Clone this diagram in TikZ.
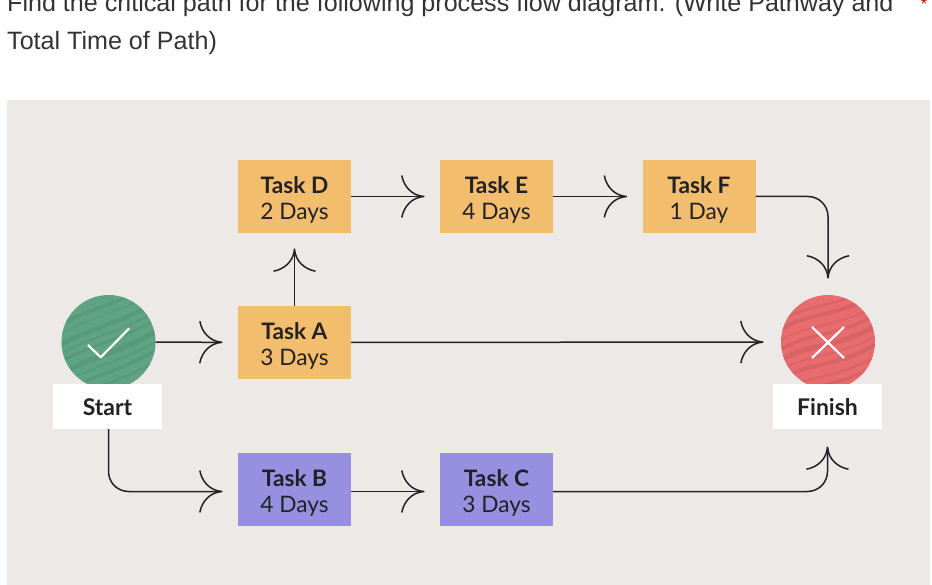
\documentclass[tikz,border=0pt]{standalone}
\usepackage{fontspec}
\setmainfont{Lato}
\newfontfamily\headfont{Liberation Sans}
\definecolor{mybg}{RGB}{236,233,231}
\definecolor{myorange}{RGB}{243,189,110}
\definecolor{mypurple}{RGB}{151,143,224}
\definecolor{mygreen}{RGB}{94,163,131}
\definecolor{myred}{RGB}{232,107,110}
\definecolor{myink}{RGB}{34,34,38}
\newcommand{\tasktext}[2]{\rule{0pt}{23pt}\textbf{#1}\\#2}
\pgfdeclarearrow{
  name=Fork,
  setup code={\pgfarrowssettipend{0pt}\pgfarrowssetlineend{-1pt}\pgfarrowssetbackend{-22pt}\pgfarrowssetvisualbackend{-8pt}},
  drawing code={
    \pgfsetdash{}{0pt}
    \pgfpathmoveto{\pgfpoint{-22pt}{21pt}}
    \pgfpathcurveto{\pgfpoint{-20pt}{10pt}}{\pgfpoint{-12pt}{1pt}}{\pgfpoint{0pt}{0pt}}
    \pgfpathcurveto{\pgfpoint{-12pt}{-1pt}}{\pgfpoint{-20pt}{-10pt}}{\pgfpoint{-22pt}{-21pt}}
    \pgfusepathqstroke
  }
}
\tikzset{
  taskbox/.style={minimum width=113pt,minimum height=73pt,inner sep=0pt,align=center,
    text=myink,font=\fontsize{22.7}{26}\selectfont},
  orangebox/.style={taskbox,fill=myorange},
  purplebox/.style={taskbox,fill=mypurple},
  endlabel/.style={fill=white,minimum width=109pt,minimum height=45pt,inner sep=0pt,
    text height=17pt,text depth=0pt,text=myink,font=\fontsize{23}{26}\selectfont\bfseries},
  disc/.style={circle,minimum size=94pt,inner sep=0pt},
  flow/.style={-Fork,line width=1.5pt,draw=myink,shorten >=16pt,rounded corners=20pt},
  mark line/.style={white,line width=2.2pt},
  questiontext/.style={anchor=base west,inner sep=0pt,text=black!80,font=\headfont\fontsize{25.1}{30}\selectfont}
}
\begin{document}
\begin{tikzpicture}[x=1pt,y=-1pt,line join=round]
  \useasboundingbox (0,0) rectangle (932,585);
  \fill[mybg] (7,100) rectangle (930,585);
  % question text
  \node[questiontext] (lineone) at (7,12)
    {Find the critical path for the following process flow diagram. (Write Pathway and};
  \node[questiontext] (linetwo) at (7,50) {Total Time of Path)};
  \node[inner sep=0pt,red!80!black,font=\headfont\fontsize{16}{16}\selectfont] (star) at (924,4) {*};
  % start and finish
  \node[disc,fill=mygreen] (start) at (108.5,342) {};
  \node[disc,fill=myred] (finish) at (828,342) {};
  \begin{scope}
    \clip (108.5,342) circle (47);
    \foreach \y/\w in {302/3,311/1.2,322/4,331/1.5,339/2.5,351/5,361/1.5,370/3,381/2}
      \draw[mygreen!80!black,line width=\w pt,opacity=.3] (58,\y+24) .. controls (90,\y+6) and (120,\y+2) .. (160,\y-22);
  \end{scope}
  \begin{scope}
    \clip (828,342) circle (47);
    \foreach \y/\w in {300/2,309/4,320/1.5,329/3,340/5,350/1.5,359/4,371/2,380/3}
      \draw[myred!78!black,line width=\w pt,opacity=.3] (778,\y+22) .. controls (810,\y+2) and (840,\y+8) .. (878,\y-16);
  \end{scope}
  \draw[mark line] (88,345)--(100.7,357.3)--(129.3,328.3);
  \draw[mark line] (812,327)--(844,358);
  \draw[mark line] (844,327)--(812,358);
  \node[endlabel] (startlabel) at (107.5,406.5) {Start};
  \node[endlabel] (finishlabel) at (827.5,406.5) {Finish};
  % tasks
  \node[orangebox] (taskD) at (294.5,196.5) {\tasktext{Task D}{2 Days}};
  \node[orangebox] (taskE) at (496.5,196.5) {\tasktext{Task E}{4 Days}};
  \node[orangebox] (taskF) at (699,196.5) {\tasktext{Task F}{1 Day}};
  \node[orangebox] (taskA) at (294.5,342.5) {\tasktext{Task A}{3 Days}};
  \node[purplebox] (taskB) at (294.5,489.5) {\tasktext{Task B}{4 Days}};
  \node[purplebox] (taskC) at (496.5,489.5) {\tasktext{Task C}{3 Days}};
  % connectors
  \draw[flow] (start)--(taskA);
  \draw[flow] (taskA)--(taskD);
  \draw[flow] (taskD)--(taskE);
  \draw[flow] (taskE)--(taskF);
  \draw[flow] ([yshift=-2pt]taskB.east)--([yshift=-2pt]taskC.west);
  \draw[flow,shorten >=18pt] (taskA)--(finish);
  \draw[flow] (start.south |- startlabel.south) |- ([yshift=-2pt]taskB.west);
  \draw[flow,shorten >=17pt] (taskF.east) -| (finish.north);
  \draw[flow,shorten >=18pt] ([yshift=-2pt]taskC.east) -| (finishlabel.south);
\end{tikzpicture}
\end{document}
